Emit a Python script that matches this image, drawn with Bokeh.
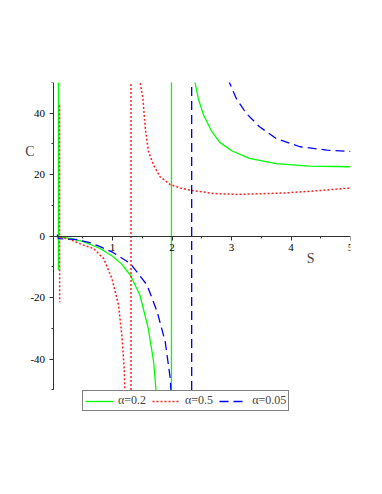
from bokeh.plotting import figure
from bokeh.models import Range1d, Legend, LegendItem, Label, FixedTicker
from bokeh.embed import file_html
from bokeh.resources import INLINE

NaN = float("nan")

# alpha = 0.2 (green, solid): near-origin spike | lower branch | jump at S~2 | upper branch
s_green = [0.09, 0.09, NaN,
           0.10, 0.30, 0.51, 0.79, 1.00, 1.15, 1.30, 1.46, 1.60, 1.69, 1.73, NaN,
           1.99, 1.99, NaN,
           2.36, 2.38, 2.44, 2.53, 2.66, 2.80, 3.00, 3.30, 3.75, 4.30, 5.00]
c_green = [55, -11, NaN,
           -0.2, -0.8, -1.8, -4.0, -6.5, -9.0, -12.7, -19.2, -30.0, -40.8, -50.0, NaN,
           -50, 60, NaN,
           56, 50.7, 44.8, 39.4, 34.3, 30.6, 27.8, 25.3, 23.6, 22.8, 22.6]

# alpha = 0.5 (red, dotted)
s_red = [0.11, 0.11, NaN,
         0.12, 0.30, 0.51, 0.68, 0.85, 0.99, 1.10, 1.156, 1.195, 1.207, NaN,
         1.31, 1.31, NaN,
         1.455, 1.465, 1.51, 1.55, 1.605, 1.69, 1.80, 1.97, 2.14, 2.29, 2.70, 3.08, 3.50, 3.92, 4.45, 5.00]
c_red = [42.6, -21.5, NaN,
         -0.3, -1.2, -2.9, -4.0, -7.3, -13.8, -22.4, -32.2, -43.0, -50.0, NaN,
         -50, 60, NaN,
         55, 49.7, 44.8, 35.0, 27.4, 23.1, 19.3, 16.8, 15.7, 15.0, 13.9, 13.6, 13.8, 14.1, 14.8, 15.7]

# alpha = 0.05 (blue, dashed)
s_blue = [0.07, 0.09, 0.37, 0.60, 0.79, 1.00, 1.30, 1.58, 1.75, 1.885, 1.97, 1.98, NaN,
          2.33, 2.33, NaN,
          2.94, 2.96, 3.08, 3.25, 3.47, 3.75, 4.15, 4.60, 5.00]
c_blue = [0.5, -0.8, -1.0, -2.0, -3.4, -5.2, -8.9, -15.9, -24.6, -34.3, -46.3, -50.0, NaN,
          -50, 60, NaN,
          56, 50.2, 44.8, 39.9, 35.6, 31.8, 29.1, 28.0, 27.6]

x_ticks = [1, 2, 3, 4, 5]
x_minor = [0.5, 1.5, 2.5, 3.5, 4.5]
y_ticks = [-40, -20, 0, 20, 40]
y_minor = [-50, -30, -10, 10, 30, 50]
y_labels = {-40: "-40", -20: "-20", 0: "0", 20: "20", 40: "40"}
series_labels = ["α=0.2", "α=0.5", "α=0.05"]

FONT = "Liberation Serif"

p = figure(frame_width=345, frame_height=332,
           x_range=Range1d(-0.8, 5.0), y_range=Range1d(-58, 50),
           output_backend="svg", toolbar_location=None,
           min_border_left=5, min_border_top=82, min_border_right=20, min_border_bottom=20)
p.outline_line_color = None
p.grid.visible = False
p.background_fill_color = "white"

g = p.line(s_green, c_green, line_color="#00ff00", line_width=1.3)
r = p.line(s_red, c_red, line_color="#ff2020", line_width=1.5, line_dash="2 2")
b = p.line(s_blue, c_blue, line_color="#0000ff", line_width=1.3, line_dash="9 5")

for ax in (p.xaxis[0], p.yaxis[0]):
    ax.fixed_location = 0
    ax.axis_line_color = "#333333"
    ax.major_tick_line_color = "#333333"
    ax.minor_tick_line_color = "#333333"
    ax.major_tick_out = 4
    ax.major_tick_in = 0
    ax.minor_tick_out = 2
    ax.minor_tick_in = 0
    ax.major_label_text_font = FONT
    ax.major_label_text_font_size = "11px"
    ax.major_label_text_color = "black"
    ax.major_label_standoff = 4

p.xaxis[0].bounds = (0, 5)
p.yaxis[0].bounds = (-50, 50)
p.xaxis[0].ticker = FixedTicker(ticks=x_ticks, minor_ticks=x_minor)
p.yaxis[0].ticker = FixedTicker(ticks=y_ticks, minor_ticks=y_minor)
p.yaxis[0].major_label_overrides = y_labels

p.add_layout(Label(x=-0.39, y=27.5, text="C", text_font=FONT, text_font_size="14px",
                   text_align="center", text_baseline="middle"))
p.add_layout(Label(x=4.33, y=-7.2, text="S", text_font=FONT, text_font_size="14px",
                   text_align="center", text_baseline="middle"))

legend = Legend(items=[LegendItem(label=series_labels[0], renderers=[g]),
                       LegendItem(label=series_labels[1], renderers=[r]),
                       LegendItem(label=series_labels[2], renderers=[b])],
                orientation="horizontal", location=(77, 3),
                border_line_color="black", border_line_width=1,
                label_text_font=FONT, label_text_font_size="12px",
                glyph_width=28, glyph_height=12, label_height=12, padding=2, spacing=6,
                label_standoff=5, margin=0, background_fill_alpha=1)
p.add_layout(legend, "center")

open("out.html", "w").write(file_html(p, INLINE))
